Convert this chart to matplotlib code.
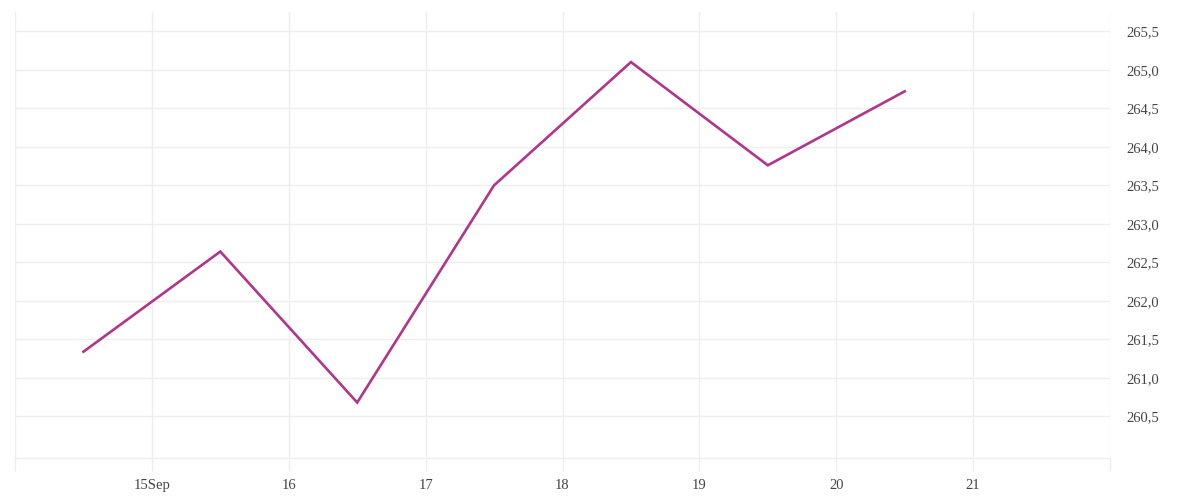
import datetime as dt
import matplotlib
matplotlib.use("Agg")
import matplotlib.pyplot as plt

# daily values, plotted at midday
dates = [dt.datetime(2014, 9, d, 12) for d in range(14, 21)]
values = [261.34, 262.64, 260.68, 263.50, 265.10, 263.76, 264.72]

tick_days = [dt.datetime(2014, 9, d) for d in range(14, 23)]
tick_labels = ["", "15Sep", "16", "17", "18", "19", "20", "21", ""]
y_ticks = [260.5, 261.0, 261.5, 262.0, 262.5, 263.0, 263.5, 264.0, 264.5, 265.0, 265.5]

grid_col = "#eeeeee"
text_col = "#444444"

plt.rcParams['font.family'] = ['Liberation Serif', 'DejaVu Serif']

fig = plt.figure(figsize=(12, 5), dpi=100)
ax = fig.add_axes([15 / 1200, 1 - 458 / 500, 1095 / 1200, 446 / 500])

ax.plot(dates, values, color="#b2358c", linewidth=1.9, solid_joinstyle="miter")

ax.set_xlim(tick_days[0], tick_days[-1])
ax.set_ylim(259.96, 265.75)

ax.set_xticks(tick_days)
ax.set_xticklabels(tick_labels)
ax.set_yticks(y_ticks)
ax.set_yticklabels([f"{v:.1f}".replace(".", ",") for v in y_ticks])

ax.yaxis.tick_right()
ax.grid(True, color=grid_col, linewidth=1)
ax.set_axisbelow(True)

for side in ["top", "left", "right"]:
    ax.spines[side].set_visible(False)
ax.spines["bottom"].set_color(grid_col)
ax.spines["bottom"].set_linewidth(1)

ax.tick_params(axis="x", length=9, width=1, color=grid_col, labelcolor=text_col,
               labelsize=10.5, pad=6)
ax.tick_params(axis="y", length=0, labelcolor=text_col, labelsize=10.5, pad=12)

fig.savefig("out.png", dpi=100)
